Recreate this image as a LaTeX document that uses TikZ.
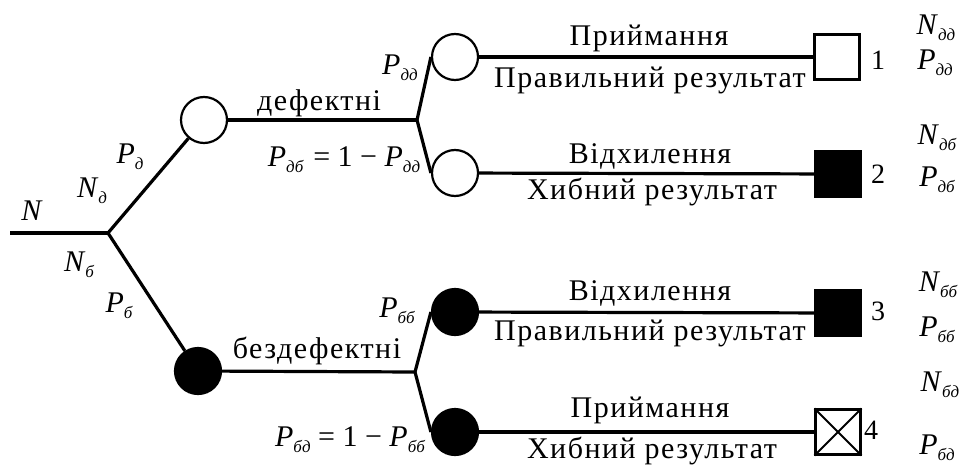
\documentclass[tikz,border=0pt]{standalone}
\usepackage{fontspec}
\setmainfont{Liberation Serif}
\newfontfamily\uaf{Liberation Serif}[LetterSpace=5]
\newcommand\vr[2]{\textit{#1}\raisebox{-0.45ex}{\fontsize{17pt}{17pt}\selectfont\itshape #2}}
\tikzset{
  branch/.style={line width=3.2pt},
  st/.style={circle, draw, line width=2.2pt, minimum size=46pt, inner sep=0pt},
  stf/.style={st, fill=black},
  box/.style={draw, line width=2.2pt, minimum size=45pt, inner sep=0pt},
  lbl/.style={font=\uaf\fontsize{30pt}{32pt}\selectfont, inner sep=0pt},
  var/.style={font=\fontsize{30pt}{32pt}\selectfont, inner sep=0pt},
  num/.style={font=\fontsize{28pt}{30pt}\selectfont, inner sep=0pt}
}
\begin{document}
\begin{tikzpicture}[x=1pt,y=-1pt]
\useasboundingbox (0,0) rectangle (965,468);
% nodes
\coordinate (n0) at (10,233);
\coordinate (r) at (108,233);
\coordinate (j1) at (417,120);
\coordinate (j2) at (415,372);
\node[st] (c1) at (204,120) {};
\node[st] (c11) at (455,57) {};
\node[st] (c12) at (455,173) {};
\node[stf] (c2) at (198,371) {};
\node[stf] (c21) at (455,312) {};
\node[stf] (c22) at (455,432) {};
\node[box] (s1) at (837,57) {};
\node[box, fill=black] (s2) at (838,174) {};
\node[box, fill=black] (s3) at (838,313) {};
\node[box] (s4) at (838,432) {};
\draw[line width=2pt] (s4.north west) -- (s4.south east) (s4.north east) -- (s4.south west);
% connectors
\draw[branch] (n0) -- (r);
\draw[branch] (r) -- (c1);
\draw[branch] (r) -- (c2);
\draw[branch] (c1) -- (j1);
\draw[branch] (c2) -- (j2);
\draw[branch] (j1) -- (c11.west);
\draw[branch] (j1) -- (c12.west);
\draw[branch] (j2) -- (c21.west);
\draw[branch] (j2) -- (c22.west);
\draw[branch] (c11) -- (s1);
\draw[branch] (c12) -- (s2);
\draw[branch] (c21) -- (s3);
\draw[branch] (c22) -- (s4);
% texts on lines
\node[lbl] (t1) at (649,38) {Приймання};
\node[lbl] (t2) at (650,80) {Правильний результат};
\node[lbl] (t3) at (650,156) {Відхилення};
\node[lbl] (t4) at (652,192) {Хибний результат};
\node[lbl] (t5) at (650,293) {Відхилення};
\node[lbl] (t6) at (650,333) {Правильний результат};
\node[lbl] (t7) at (650,410) {Приймання};
\node[lbl] (t8) at (652,451) {Хибний результат};
\node[lbl] (t9) at (319,103) {дефектні};
\node[lbl] (t10) at (317,351) {бездефектні};
% variables
\node[var] (vN) at (32,211) {\textit{N}};
\node[var] (vNd) at (92,191) {\vr{N}{д}};
\node[var] (vPd) at (130,157) {\vr{P}{д}};
\node[var] (vNb) at (79,265) {\vr{N}{б}};
\node[var] (vPb) at (119,306) {\vr{P}{б}};
\node[var] (vPdd) at (400,68) {\vr{P}{дд}};
\node[var] (vPdb) at (344,160) {\vr{P}{дб}\,\,= 1 − \vr{P}{дд}};
\node[var] (vPbb) at (397,311) {\vr{P}{бб}};
\node[var] (vPbd) at (350,440) {\vr{P}{бд} = 1 − \vr{P}{бб}};
\node[var] (rN1) at (936,28) {\vr{N}{дд}};
\node[var] (rP1) at (935,63) {\vr{P}{дд}};
\node[var] (rN2) at (937,138) {\vr{N}{дб}};
\node[var] (rP2) at (937,180) {\vr{P}{дб}};
\node[var] (rN3) at (938,285) {\vr{N}{бб}};
\node[var] (rP3) at (937,330) {\vr{P}{бб}};
\node[var] (rN4) at (940,385) {\vr{N}{бд}};
\node[var] (rP4) at (937,448) {\vr{P}{бд}};
% numbers
\node[num] (k1) at (878,60) {1};
\node[num] (k2) at (878,174) {2};
\node[num] (k3) at (878,311) {3};
\node[num] (k4) at (871,430) {4};
\end{tikzpicture}
\end{document}
